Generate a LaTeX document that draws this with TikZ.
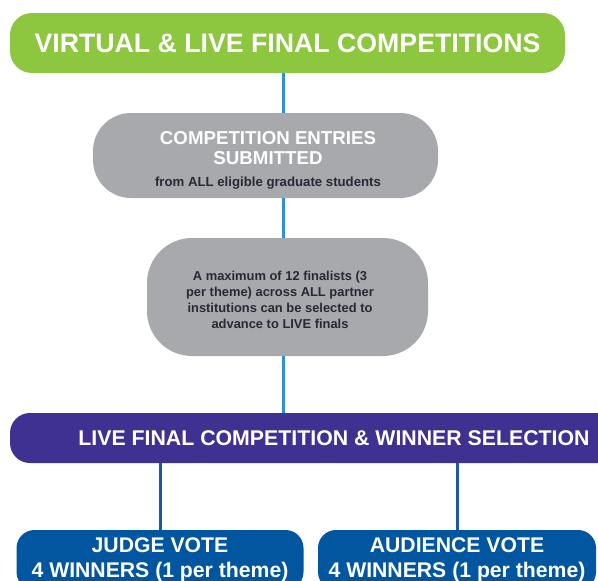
\documentclass[tikz,border=0pt]{standalone}
\usepackage{fontspec}
\setmainfont{Liberation Sans}
\usetikzlibrary{positioning}
\definecolor{leafgreen}{HTML}{8DC63F}
\definecolor{stonegray}{HTML}{A7A9AC}
\definecolor{inkdark}{HTML}{262A36}
\definecolor{royalpurple}{HTML}{3F3191}
\definecolor{voteblue}{HTML}{0256A0}
\definecolor{linkblue}{HTML}{2E90D8}
\definecolor{linkdeep}{HTML}{1D5AA3}

\begin{document}
\begin{tikzpicture}[x=1pt, y=-1pt,
    stagebox/.style={align=center, inner sep=0pt, text=white, font=\bfseries},
    link/.style={line width=3pt, draw=linkblue},
    votelink/.style={line width=3pt, draw=linkdeep}]
                \useasboundingbox (0,0) rectangle (598,581);

                \node[stagebox, fill=leafgreen, rounded corners=22pt, minimum width=555pt, minimum height=60pt,
                      font=\bfseries\fontsize{26.7}{30}\selectfont] (title) at (287.5, 43)
                      {VIRTUAL \& LIVE FINAL COMPETITIONS};
                \node[stagebox, fill=stonegray, rounded corners=38pt, minimum width=345pt, minimum height=85pt] (entries) at (265.5, 155.5) {};
                \node[stagebox, font=\bfseries\fontsize{18.7}{20}\selectfont] (entriesnote) at ([xshift=2.5pt, yshift=-5pt]entries.center)
                      {COMPETITION ENTRIES\\SUBMITTED\\[2pt]
                       \color{inkdark}\fontsize{13.2}{15}\selectfont from ALL eligible graduate students};
                \node[stagebox, fill=stonegray, rounded corners=45pt, minimum width=281pt, minimum height=118pt] (finalists) at (287.5, 297) {};
                \node[stagebox, text=inkdark, font=\bfseries\fontsize{12.9}{16}\selectfont] (finalistsnote) at ([xshift=-7.5pt, yshift=-2.5pt]finalists.center)
                      {A maximum of 12 finalists (3\\per theme) across ALL partner\\institutions can be selected to\\advance to LIVE finals};
                \node[stagebox, fill=royalpurple, rounded corners=20pt, minimum width=648pt, minimum height=50pt,
                      font=\bfseries\fontsize{21.3}{24}\selectfont] (live) at (334, 438)
                      {LIVE FINAL COMPETITION \& WINNER SELECTION};
                \node[stagebox, fill=voteblue, rounded corners=18pt, minimum width=287pt, minimum height=60pt,
                      font=\bfseries\fontsize{21.2}{24.5}\selectfont] (judge) at (160, 560)
                      {JUDGE VOTE\\4 WINNERS (1 per theme)};
                \node[stagebox, fill=voteblue, rounded corners=18pt, minimum width=278pt, minimum height=60pt,
                      font=\bfseries\fontsize{21.2}{24.5}\selectfont] (audience) at (457, 560)
                      {AUDIENCE VOTE\\4 WINNERS (1 per theme)};

                \coordinate (spine) at (283, 0);
                \draw[link] (title.south -| spine) -- (entries.north -| spine);
                \draw[link] (entries.south -| spine) -- (finalists.north -| spine);
                \draw[link] (finalists.south -| spine) -- (live.north -| spine);
                \draw[votelink] (live.south -| judge.north) -- (judge.north);
                \draw[votelink] (live.south -| audience.north) -- (audience.north);
            \end{tikzpicture}
\end{document}
